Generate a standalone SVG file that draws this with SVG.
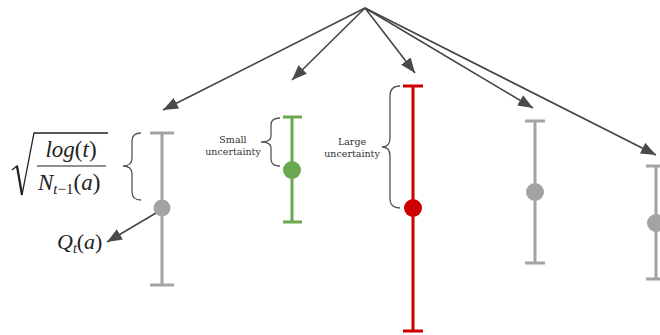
<svg xmlns="http://www.w3.org/2000/svg" width="660" height="335" viewBox="0 0 660 335">
<style>
.conn{stroke:#454545;stroke-width:1.6;fill:none}
.gray{stroke:#a3a3a3;stroke-width:3;fill:none}
.green{stroke:#6aa84f;stroke-width:3;fill:none}
.red{stroke:#cc0000;stroke-width:3;fill:none}
.brace{stroke:#555;stroke-width:1.3;fill:none}
.lbl{font-family:"DejaVu Serif",serif;font-size:9.5px;fill:#333;text-anchor:middle}
.math{font-family:"Liberation Serif","Times New Roman",serif;fill:#222}
</style>
<defs>
<marker id="ah" markerUnits="userSpaceOnUse" markerWidth="16" markerHeight="12" refX="15" refY="6" orient="auto">
<path d="M0,0 L15,6 L0,12 z" fill="#4a4a4a"/>
</marker>
</defs>
<rect width="660" height="335" fill="#fff"/>
<g id="connectors">
<line class="conn" x1="365" y1="8" x2="163" y2="110" marker-end="url(#ah)"/>
<line class="conn" x1="365" y1="8" x2="292" y2="80" marker-end="url(#ah)"/>
<line class="conn" x1="365" y1="8" x2="415" y2="73" marker-end="url(#ah)"/>
<line class="conn" x1="365" y1="8" x2="533" y2="108" marker-end="url(#ah)"/>
<line class="conn" x1="365" y1="8" x2="656" y2="155" marker-end="url(#ah)"/>
<line class="conn" x1="156" y1="213" x2="107" y2="242" marker-end="url(#ah)"/>
</g>
<g id="bar1">
<path class="gray" d="M150,133 H174 M162,133 V285 M150,285 H174"/>
<circle cx="162" cy="208" r="8.5" fill="#a3a3a3"/>
<path class="brace" d="M141,133 Q132,133 132,141 L132,158 Q132,166 123,166 Q132,166 132,174 L132,192 Q132,200 141,200"/>
</g>
<g id="formula">
<path d="M12,170 L17,166 L22,195 L34,133 H108" fill="none" stroke="#222" stroke-width="1.3"/>
<path d="M17,166 L22,195" stroke="#222" stroke-width="2.2"/>
<text class="math" x="71" y="157" font-size="23" text-anchor="middle"><tspan font-style="italic">log</tspan>(<tspan font-style="italic">t</tspan>)</text>
<line x1="37" y1="166" x2="106" y2="166" stroke="#222" stroke-width="1.2"/>
<text class="math" x="38" y="190" font-size="23"><tspan font-style="italic">N</tspan><tspan font-size="15" dy="4"><tspan font-style="italic">t</tspan>−1</tspan><tspan dy="-4">(<tspan font-style="italic">a</tspan>)</tspan></text>
</g>
<g id="qlabel">
<text class="math" x="57" y="249" font-size="22"><tspan font-style="italic">Q</tspan><tspan font-size="14" dy="4" font-style="italic">t</tspan><tspan dy="-4">(<tspan font-style="italic">a</tspan>)</tspan></text>
</g>
<g id="bar2">
<path class="green" d="M283,117 H302 M292,117 V222 M283,222 H302"/>
<circle cx="292" cy="170" r="9" fill="#6aa84f"/>
<path class="brace" d="M280,118 Q271,118 271,125 L271,136 Q271,142 261,142 Q271,142 271,148 L271,159 Q271,166 280,166"/>
<text class="lbl" x="233" y="143">Small</text>
<text class="lbl" x="233" y="155">uncertainty</text>
</g>
<g id="bar3">
<path class="red" d="M403,86 H423 M413,86 V331 M403,331 H423"/>
<circle cx="413" cy="208" r="9" fill="#cc0000"/>
<path class="brace" d="M400,86 Q390,86 390,96 L390,138 Q390,147 382,147 Q390,147 390,156 L390,199 Q390,208 400,208"/>
<text class="lbl" x="352" y="145">Large</text>
<text class="lbl" x="352" y="157">uncertainty</text>
</g>
<g id="bar4">
<path class="gray" d="M525,121 H545 M535,121 V263 M525,263 H545"/>
<circle cx="535" cy="192" r="9" fill="#a3a3a3"/>
</g>
<g id="bar5">
<path class="gray" d="M646,166 H666 M656,166 V279 M646,279 H666"/>
<circle cx="656" cy="223" r="9" fill="#a3a3a3"/>
</g>
</svg>
